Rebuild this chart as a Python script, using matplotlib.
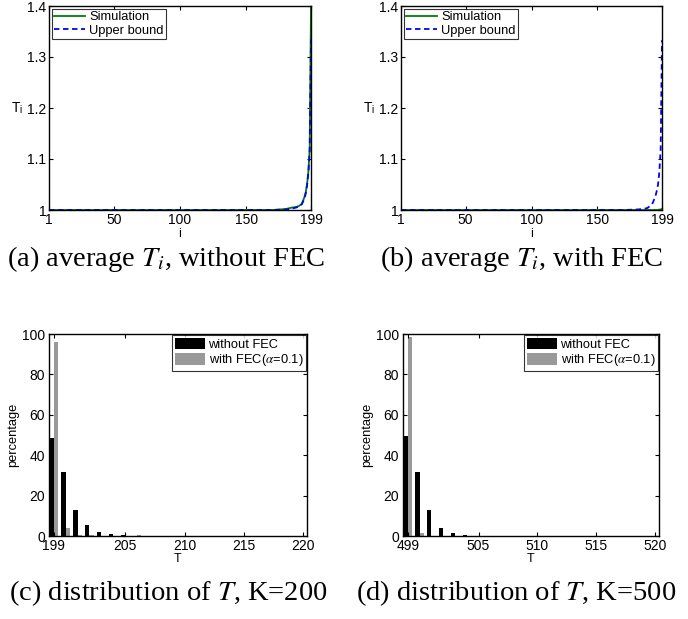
import numpy as np
import matplotlib
matplotlib.use("Agg")
import matplotlib.pyplot as plt

plt.rcParams['font.family'] = ['Liberation Sans', 'DejaVu Sans']
plt.rcParams['mathtext.fontset'] = 'stix'

# 平均 T_i 曲线 (a)(b) 的取样点
i_pts = [1, 50, 100, 150, 170, 180, 185, 188, 190, 192, 194, 195, 196, 197, 198, 199]
sim_a = [1, 1, 1, 1, 1.0, 1.002, 1.005, 1.006, 1.008, 1.012, 1.025, 1.035, 1.05, 1.075, 1.12, 1.40]
ub_a = [1, 1, 1, 1, 1.0, 1.001, 1.003, 1.005, 1.007, 1.011, 1.022, 1.032, 1.048, 1.072, 1.115, 1.335]
sim_b = [1, 1, 1, 1, 1.0, 1.0, 1.0, 1.0, 1.0, 1.0, 1.0, 1.0, 1.0, 1.001, 1.001, 1.002]
ub_b = [1, 1, 1, 1, 1.0, 1.001, 1.002, 1.004, 1.008, 1.014, 1.027, 1.037, 1.05, 1.075, 1.12, 1.333]

# T 的分布 (c)(d)
t_c = [199, 200, 201, 202, 203, 204, 205, 206, 207]
no_fec_c = [48.5, 31.5, 13.0, 5.5, 2.0, 0.8, 0.3, 0.2, 0.1]
fec_c = [96.0, 4.2, 0.3, 0.3, 0.2, 0.2, 0.2, 0.3, 0.1]
t_d = [499, 500, 501, 502, 503, 504, 505, 506, 507, 508]
no_fec_d = [49.5, 31.5, 13.0, 4.2, 1.3, 0.4, 0.2, 0.1, 0.1, 0.1]
fec_d = [98.5, 1.3, 0.2, 0.1, 0.1, 0.1, 0.2, 0.1, 0.1, 0.1]

captions = [r'(a) average $T_i$, without FEC', r'(b) average $T_i$, with FEC',
            r'(c) distribution of $T$, K=200', r'(d) distribution of $T$, K=500']

W, H = 688, 619
fig = plt.figure(figsize=(W / 100, H / 100), dpi=100)


def px_axes(x0, y_top, w, h):
    return fig.add_axes([x0 / W, (H - y_top - h) / H, w / W, h / H])


def style(ax):
    ax.tick_params(direction='in', top=True, right=True, length=3, labelsize=10, pad=2, width=0.8)
    for s in ax.spines.values():
        s.set_linewidth(1.0)


def line_panel(ax, sim, ub):
    ax.plot(i_pts, sim, color='#008000', lw=1.3, label='Simulation')
    ax.plot(i_pts, ub, color='#0000ff', lw=1.3, ls=(0, (3, 2)), label='Upper bound')
    ax.set_xlim(1, 199)
    ax.set_ylim(1, 1.4)
    ax.set_xticks([1, 50, 100, 150, 199])
    ax.set_yticks([1, 1.1, 1.2, 1.3, 1.4])
    ax.set_yticklabels(['1', '1.1', '1.2', '1.3', '1.4'])
    ax.set_xlabel('i', fontsize=9, labelpad=1)
    ax.set_ylabel('T$_\\mathregular{i}$', fontsize=10, rotation=0, labelpad=7, va='center')
    style(ax)
    leg = ax.legend(loc='upper left', fontsize=9.3, frameon=True, fancybox=False,
                    edgecolor='black', borderaxespad=0.2, handlelength=2.4,
                    handletextpad=0.3, borderpad=0.2, labelspacing=0.1)
    leg.get_frame().set_linewidth(0.8)


def bar_panel(ax, t, a, b, lo):
    w = 0.35
    x = np.array(t, dtype=float)
    ax.bar(x - w / 2, a, width=w, color='black', label='without FEC')
    ax.bar(x + w / 2, b, width=w, color='#999999', label='with FEC($\\alpha$=0.1)')
    ax.set_xlim(lo - 0.4, lo + 21.3)
    ax.set_ylim(0, 100)
    ax.set_xticks([lo, lo + 6, lo + 11, lo + 16, lo + 21])
    ax.set_yticks([0, 20, 40, 60, 80, 100])
    ax.set_xlabel('T', fontsize=9, labelpad=0)
    ax.set_ylabel('percentage', fontsize=9.3, labelpad=2)
    style(ax)
    ax.tick_params(axis='y', pad=3)
    leg = ax.legend(loc='upper right', fontsize=9.3, frameon=True, fancybox=False,
                    edgecolor='black', borderaxespad=0.1, handlelength=2.3,
                    handleheight=1.0, handletextpad=0.3, borderpad=0.2, labelspacing=0.1)
    leg.get_frame().set_linewidth(0.8)


ax_a = px_axes(49, 6, 262, 204)
line_panel(ax_a, sim_a, ub_a)
ax_b = px_axes(401, 6, 261, 204)
line_panel(ax_b, sim_b, ub_b)
ax_c = px_axes(49, 334, 258, 202)
bar_panel(ax_c, t_c, no_fec_c, fec_c, 199)
ax_d = px_axes(403, 334, 256, 202)
bar_panel(ax_d, t_d, no_fec_d, fec_d, 499)

cap_font = dict(family='Liberation Serif', fontsize=20.5, ha='center', va='center')
fig.text(166 / W, 1 - 259 / H, captions[0], **cap_font)
fig.text(522 / W, 1 - 259 / H, captions[1], **cap_font)
fig.text(168 / W, 1 - 593 / H, captions[2], **cap_font)
fig.text(516 / W, 1 - 593 / H, captions[3], **cap_font)

fig.savefig('out.png', dpi=100)
